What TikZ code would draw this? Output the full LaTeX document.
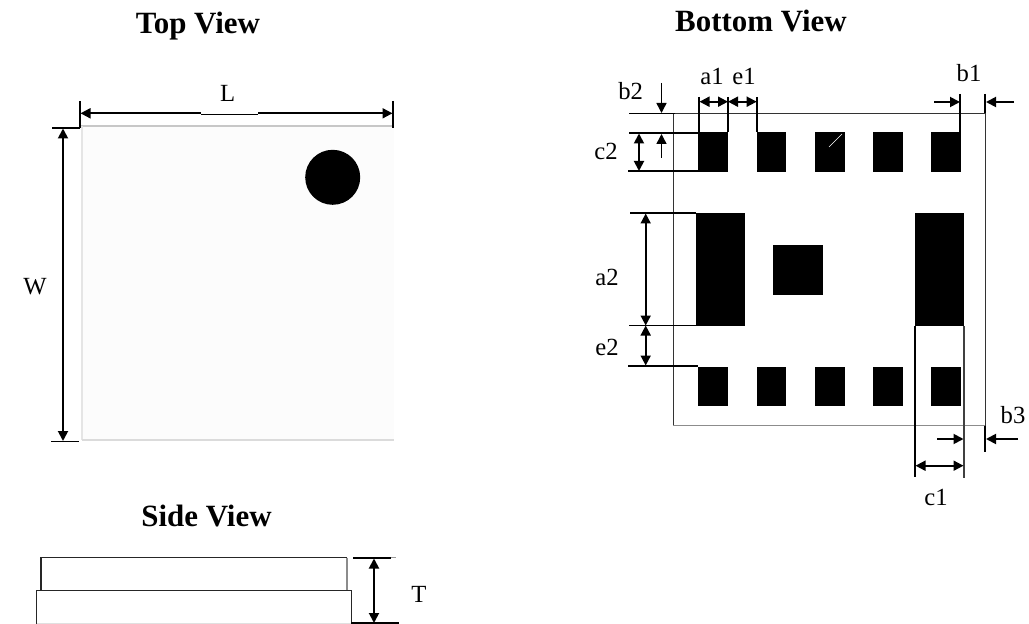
\documentclass[tikz,border=0pt]{standalone}
\usepackage{fontspec}
\setmainfont{Liberation Serif}
\usetikzlibrary{arrows.meta}
\tikzset{
  x=0.75pt,y=-0.75pt,
  lab/.style={inner sep=0pt,anchor=base,font=\fontsize{18.5pt}{20pt}\selectfont},
  ttl/.style={inner sep=0pt,anchor=base,font=\fontsize{23.2pt}{25pt}\selectfont\bfseries},
  ext/.style={line width=1.4pt,black},
  dim/.style={line width=1.4pt,black,{Triangle[length=7.5pt,width=7.5pt]}-{Triangle[length=7.5pt,width=7.5pt]}},
  one/.style={line width=1.4pt,black,-{Triangle[length=7.5pt,width=7.5pt]}},
  thin1/.style={line width=0.8pt,black!85},
  pad/.style={fill=black,draw=none},
}
\begin{document}
\begin{tikzpicture}
\useasboundingbox (0,0) rectangle (1029,624);
% titles
\node[ttl] (ttop) at (198,34) {Top View};
\node[ttl] (tbot) at (761,32) {Bottom View};
\node[ttl] (tside) at (206.5,526) {Side View};
% top view
\fill[black!1] (82,126) rectangle (394,440);
\draw[line width=1.4pt,black!22] (81,125.7) -- (393,125.7);
\draw[line width=1.4pt,black!10] (82,126) -- (82,440);
\draw[line width=1.4pt,black!14] (82,440) -- (394,440);
\fill[black] (332.7,177.3) circle[radius=27.5*0.75pt];
\draw[ext] (80,101) -- (80,128) (393,101) -- (393,128);
\draw[ext] (52,128) -- (80,128) (51,441.5) -- (79,441.5);
\draw[one] (201,113.3) -- (80.5,113.3);
\draw[one] (258,113.3) -- (392.5,113.3);
\draw[line width=0.6pt,black] (201,114) -- (258,114);
\draw[dim] (63,128.5) -- (63,441);
\node[lab] (nL) at (227.7,102) {L};
\node[lab] (nW) at (35,295) {W};
% side view
\draw[thin1] (41,590.5) -- (41,557.5) -- (347,557.5);
\draw[line width=0.9pt,black!45] (347,557.5) -- (347,590.5);
\draw[thin1] (36.5,623.5) -- (36.5,590.5) -- (351.5,590.5) -- (351.5,623.5);
\draw[line width=0.6pt,black!12] (36.5,623.4) -- (351.5,623.4);
\draw[ext] (353,558) -- (391,558) (351,623.2) -- (399,623.2);
\draw[line width=0.4pt,black!40] (391,557.6) -- (396,557.6);
\draw[dim] (374,558.5) -- (374,623);
\node[lab] (nT) at (419,602) {T};
% bottom view outline
\draw[line width=0.7pt,black!80] (985.3,113.4) -- (673.3,113.4) -- (673.3,425.7);
\draw[line width=0.7pt,black!80] (985.3,113.4) -- (985.3,425.7);
\draw[line width=1pt,black!45] (673.3,425.7) -- (985.3,425.7);
% pads
\foreach \xa in {698,756.6,815,873,931.3}{
  \fill[pad] (\xa,132.3) rectangle ++(29.7,39.4);
  \fill[pad] (\xa,366.7) rectangle ++(29.7,39.4);
}
\draw[white,line width=0.5pt] (829,147) -- (842,134);
\fill[pad] (695.7,213) rectangle (744.5,325.7);
\fill[pad] (915,213) rectangle (963.5,325.7);
\fill[pad] (773,245) rectangle (823,295);
% extension lines
\draw[ext] (629,113.5) -- (675,113.5);
\draw[ext] (629,133.3) -- (698,133.3) (628,171.3) -- (698,171.3);
\draw[ext] (699,97) -- (699,132.5) (728,97) -- (728,132.5) (757,97) -- (757,132.5);
\draw[ext] (960.3,94) -- (960.3,132.5) (985.3,94) -- (985.3,113.4);
\draw[ext] (630,213) -- (696,213) (629,325.5) -- (696,325.5) (628,365.7) -- (698,365.7);
\draw[ext] (915,326) -- (915,476.7);
\draw[line width=1.4pt,black!75] (964,326) -- (964,478);
\draw[ext] (985.3,425.7) -- (985.3,451.7);
% dimensions
\draw[one,line width=1.1pt] (661.5,83) -- (661.5,113);
\draw[dim] (639,133.5) -- (639,171);
\draw[one,line width=1.1pt] (661.5,158) -- (661.5,134);
\draw[dim] (699.5,101.7) -- (728,101.7);
\draw[dim] (728,101.7) -- (756.7,101.7);
\draw[one] (934,102) -- (960,102);
\draw[one] (1014,102) -- (986,102);
\draw[dim] (645.7,213.5) -- (645.7,325.5);
\draw[dim] (645.7,325.5) -- (645.7,365.5);
\draw[dim] (915.5,465.7) -- (963.5,465.7);
\draw[one] (937,439) -- (963.5,439);
\draw[one] (1018,439) -- (986,439);
% labels
\node[lab] (nb2) at (630.7,100) {b2};
\node[lab] (nc2) at (606,160) {c2};
\node[lab] (na1) at (712,85) {a1};
\node[lab] (ne1) at (744,85) {e1};
\node[lab] (nb1) at (969,81.7) {b1};
\node[lab] (nb3) at (1013,423) {b3};
\node[lab] (nc1) at (936,505) {c1};
\node[lab] (na2) at (607,286) {a2};
\node[lab] (ne2) at (607,355) {e2};
\end{tikzpicture}
\end{document}
